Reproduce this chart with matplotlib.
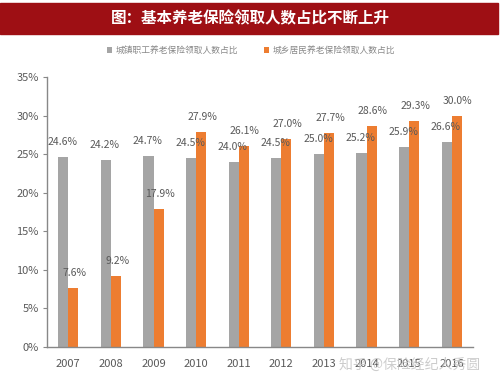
import numpy as np
import matplotlib.pyplot as plt
from matplotlib.patches import Rectangle

plt.rcParams['font.family'] = ['Liberation Sans Narrow', 'Noto Sans CJK SC', 'DejaVu Sans']

years = ['2007', '2008', '2009', '2010', '2011', '2012', '2013', '2014', '2015', '2016']
urban = [24.6, 24.2, 24.7, 24.5, 24.0, 24.5, 25.0, 25.2, 25.9, 26.6]
rural = [7.6, 9.2, 17.9, 27.9, 26.1, 27.0, 27.7, 28.6, 29.3, 30.0]
urban_name = '城镇职工养老保险领取人数占比'
rural_name = '城乡居民养老保险领取人数占比'
title = '图：基本养老保险领取人数占比不断上升'

gray = '#a5a5a5'
orange = '#ed7d31'
txt = '#595959'

fig = plt.figure(figsize=(5, 3.83), dpi=100)
fig.patch.set_facecolor('white')

# title banner
fig.patches.append(Rectangle((0, 0.912), 0.995, 0.081, transform=fig.transFigure,
                             color='#9e0f14', zorder=0))
fig.text(0.5, 0.953, title, color='white', fontsize=11.2, fontweight='bold',
         ha='center', va='center', family=['Noto Sans CJK SC', 'DejaVu Sans'])

ax = fig.add_axes([0.094, 0.094, 0.852, 0.705])
x = np.arange(len(years))
w = 0.235
ax.bar(x - w / 2, urban, w, color=gray, label=urban_name)
ax.bar(x + w / 2, rural, w, color=orange, label=rural_name)

for i in range(len(years)):
    ax.text(x[i] - w / 2 - 0.02, urban[i] + 1.3, f'{urban[i]:.1f}%', ha='center', va='bottom',
            fontsize=7.5, color=txt)
    ax.text(x[i] + w / 2 + 0.03, rural[i] + 1.3, f'{rural[i]:.1f}%', ha='center', va='bottom',
            fontsize=7.5, color=txt)

ax.set_xlim(-0.5, len(years) - 0.5)
ax.set_ylim(0, 35)
ax.set_yticks(np.arange(0, 36, 5))
ax.set_yticklabels([f'{v}%' for v in range(0, 36, 5)])
ax.set_xticks(x)
ax.set_xticklabels(years)
ax.tick_params(axis='y', length=3, color='#888888', labelsize=8, labelcolor=txt, pad=3)
ax.tick_params(axis='x', length=0, labelsize=8, labelcolor=txt, pad=9)
for s in ['top', 'right']:
    ax.spines[s].set_visible(False)
for s in ['left', 'bottom']:
    ax.spines[s].set_color('#888888')
    ax.spines[s].set_linewidth(1.0)

# legend
fig.legend(loc='center', bbox_to_anchor=(0.502, 0.868), ncol=2, frameon=False,
           handlelength=0.55, handleheight=0.55, columnspacing=3.0,
           handletextpad=0.4, labelcolor='#888888',
           prop={'family': ['Noto Sans CJK SC', 'DejaVu Sans'], 'size': 6.3})

# watermark
fig.text(0.678, 0.047, '知乎 @保险经纪人秀圆', color='#c4c4c4', fontsize=10, alpha=0.85,
         ha='left', va='center', family=['Noto Sans CJK SC', 'DejaVu Sans'])

fig.savefig('out.png', dpi=100)
